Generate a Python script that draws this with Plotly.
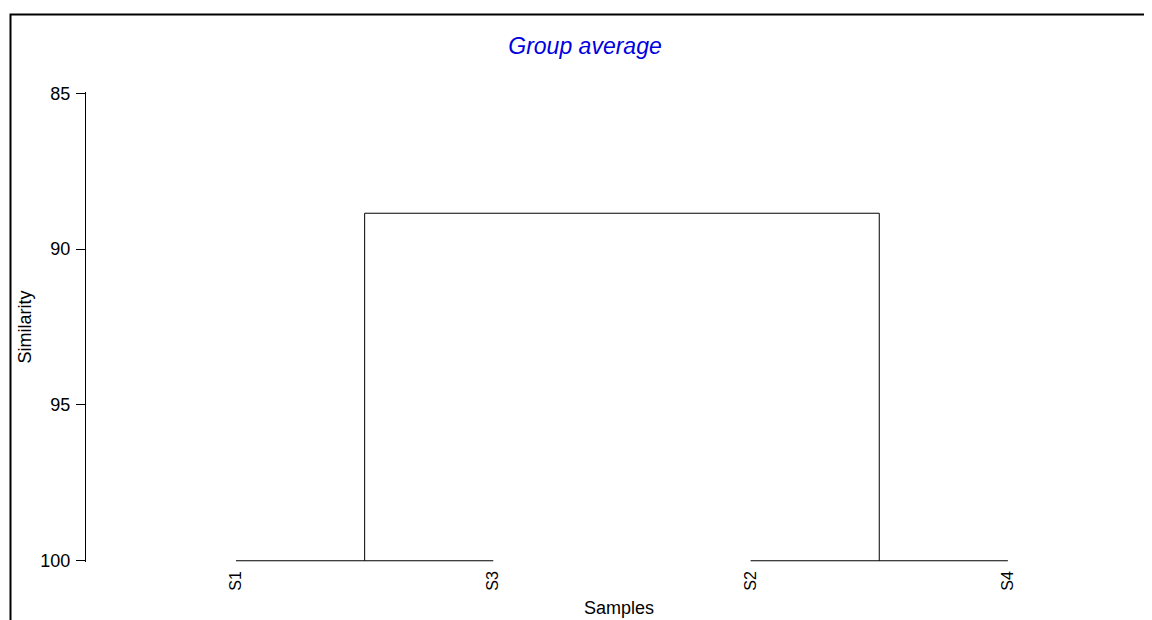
import plotly.graph_objects as go

# ---- data ----
samples = ["S1", "S3", "S2", "S4"]
# merges: (left node, right node, similarity); nodes 0..3 are leaves, 4.. are clusters
merge_left = [0, 2, 4]
merge_right = [1, 3, 5]
merge_sim = [100.0, 100.0, 88.85]
y_ticks = [85, 90, 95, 100]

# ---- build dendrogram segments from the data ----
node_x = {i: float(i + 1) for i in range(len(samples))}
node_y = {i: 100.0 for i in range(len(samples))}
xs, ys = [], []
for k, (a, b, s) in enumerate(zip(merge_left, merge_right, merge_sim)):
    xa, ya = node_x[a], node_y[a]
    xb, yb = node_x[b], node_y[b]
    xs += [xa, xa, xb, xb, None]
    ys += [ya, s, s, yb, None]
    nid = len(samples) + k
    node_x[nid] = (xa + xb) / 2
    node_y[nid] = s

OFF = 8  # page body margin
W, H = 1152 - OFF, 620 - OFF
L, T = 86 - OFF, 92 - OFF
PW, PH = W - L, 470
B = H - T - PH
STEP = 257.3

fig = go.Figure()
fig.add_trace(go.Scatter(x=xs, y=ys, mode="lines",
                         line=dict(color="#000000", width=1),
                         hoverinfo="skip", showlegend=False))

def px_to_paper_x(px):
    return (px - OFF - L) / PW

def px_to_paper_y(py):
    return 1 + (T - (py - OFF)) / PH

x0 = 1 - (236 - 86) / STEP
fig.update_layout(
    width=W, height=H,
    margin=dict(l=L, r=0, t=T, b=B),
    paper_bgcolor="white", plot_bgcolor="white",
    font=dict(family="Arial, Liberation Sans, sans-serif", color="black", size=18),
    showlegend=False,
    title=dict(text="<i>Group average</i>", font=dict(size=23, color="#0000e0"),
               x=(585 - OFF) / W, xanchor="center", y=1 - (46 - OFF) / H, yanchor="middle"),
    xaxis=dict(range=[x0, x0 + PW / STEP],
               tickvals=[1, 2, 3, 4], ticktext=samples, tickangle=-90,
               tickfont=dict(size=16), showgrid=False, zeroline=False,
               showline=False, ticks="", fixedrange=True, ticklabelstandoff=5,
               title=dict(text="Samples", font=dict(size=18), standoff=11)),
    yaxis=dict(range=[100.04, 84.96], tickvals=y_ticks,
               ticktext=[str(v) for v in y_ticks],
               showgrid=False, zeroline=False, showline=True,
               linecolor="black", linewidth=1, ticks="outside", ticklen=9,
               tickcolor="black", tickwidth=1, tickfont=dict(size=18),
               ticklabelstandoff=2,
               title=dict(text="Similarity", font=dict(size=18), standoff=4)),
    shapes=[dict(type="rect", xref="paper", yref="paper",
                 x0=px_to_paper_x(10.5), x1=1.2,
                 y0=-0.3, y1=px_to_paper_y(14.5),
                 line=dict(color="black", width=2), layer="above")],
)

fig.write_html("out.html")
